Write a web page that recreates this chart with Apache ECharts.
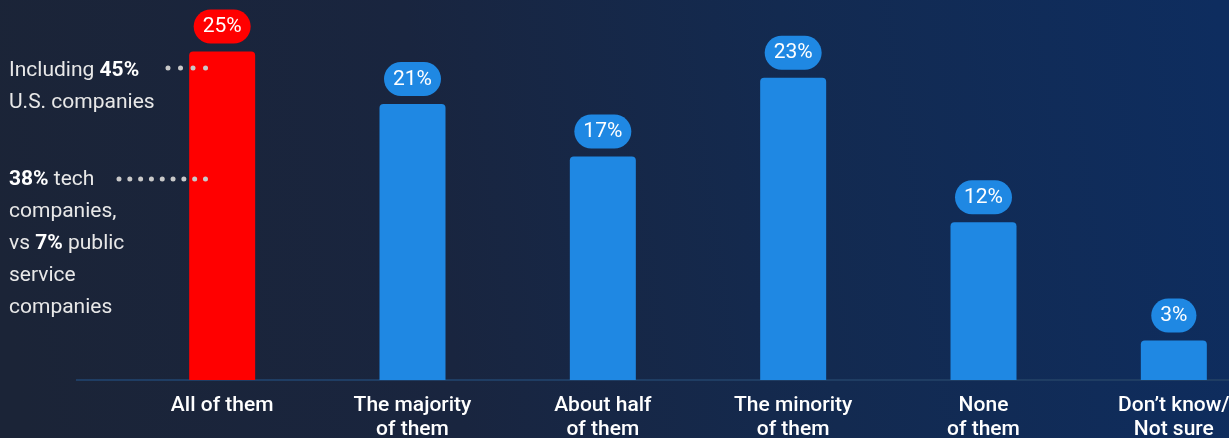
<!DOCTYPE html>
<html>
<head>
<meta charset="utf-8">
<script src="https://cdn.jsdelivr.net/npm/echarts@6/dist/echarts.min.js"></script>
<style>
html,body{margin:0;padding:0;background:#17263f;}
#chart{width:1229px;height:438px;}
</style>
</head>
<body>
<div id="chart"></div>
<script>
var categories = ['All of them', 'The majority\nof them', 'About half\nof them', 'The minority\nof them', 'None\nof them', 'Don\u2019t know/\nNot sure'];
var values = [25, 21, 17, 23, 12, 3];
var highlightIndex = 0;

var RED = '#ff0000';
var BLUE = '#1f88e3';
var FONT = 'Roboto, "Noto Sans", sans-serif';

var chart = echarts.init(document.getElementById('chart'), null, {renderer: 'canvas'});

var barData = values.map(function (v, i) {
  var c = i === highlightIndex ? RED : BLUE;
  return {
    value: v,
    itemStyle: {color: c, borderRadius: [4, 4, 0, 0]},
    label: {backgroundColor: c}
  };
});

var option = {
  backgroundColor: {
    type: 'linear', x: 0, y: 0.6, x2: 1, y2: 0.2,
    colorStops: [
      {offset: 0, color: '#1b2437'},
      {offset: 0.35, color: '#19253f'},
      {offset: 0.65, color: '#132a50'},
      {offset: 1, color: '#0e2d5f'}
    ]
  },
  animation: false,
  grid: {left: 127, width: 1142, top: 12, height: 368, outerBoundsMode: 'none', containLabel: false},
  xAxis: {
    type: 'category',
    data: categories,
    axisLine: {show: false},
    axisTick: {show: false},
    axisLabel: {
      interval: 0,
      color: '#ffffff',
      fontFamily: FONT,
      fontSize: 21,
      fontWeight: 500,
      lineHeight: 24,
      margin: 14
    }
  },
  yAxis: {type: 'value', min: 0, max: 28, show: false},
  series: [{
    type: 'bar',
    data: barData,
    barWidth: 66,
    z: 2,
    label: {
      show: true,
      position: 'top',
      distance: 8,
      formatter: '{c}%',
      color: '#ffffff',
      fontFamily: FONT,
      fontSize: 21,
      fontWeight: 'normal',
      lineHeight: 21,
      padding: [7, 9, 6, 9],
      borderRadius: 17
    }
  }],
  graphic: [
    {
      type: 'line', z: 1, silent: true,
      shape: {x1: 76, y1: 380, x2: 1229, y2: 380},
      style: {stroke: '#1f3d63', lineWidth: 2}
    },
    {
      type: 'text', z: 100, left: 9, top: 55,
      style: {
        text: 'Including {b|45%}\nU.S. companies',
        fill: '#e8e8e8', font: '21px Roboto', lineHeight: 32,
        rich: {b: {fill: '#ffffff', fontWeight: 'bold', fontSize: 21, fontFamily: 'Roboto'}}
      }
    },
    {
      type: 'text', z: 100, left: 9, top: 164,
      style: {
        text: '{b|38%} tech\ncompanies,\nvs {b|7%} public\nservice\ncompanies',
        fill: '#e8e8e8', font: '21px Roboto', lineHeight: 32,
        rich: {b: {fill: '#ffffff', fontWeight: 'bold', fontSize: 21, fontFamily: 'Roboto'}}
      }
    },
    {
      type: 'line', z: 100, silent: true,
      shape: {x1: 168, y1: 68, x2: 206, y2: 68},
      style: {stroke: '#c9c9c9', lineWidth: 5, lineCap: 'round', lineDash: [0.01, 12.5]}
    },
    {
      type: 'line', z: 100, silent: true,
      shape: {x1: 119, y1: 179, x2: 206, y2: 179},
      style: {stroke: '#c9c9c9', lineWidth: 5, lineCap: 'round', lineDash: [0.01, 10.8]}
    }
  ]
};
chart.setOption(option);
</script>
</body>
</html>
